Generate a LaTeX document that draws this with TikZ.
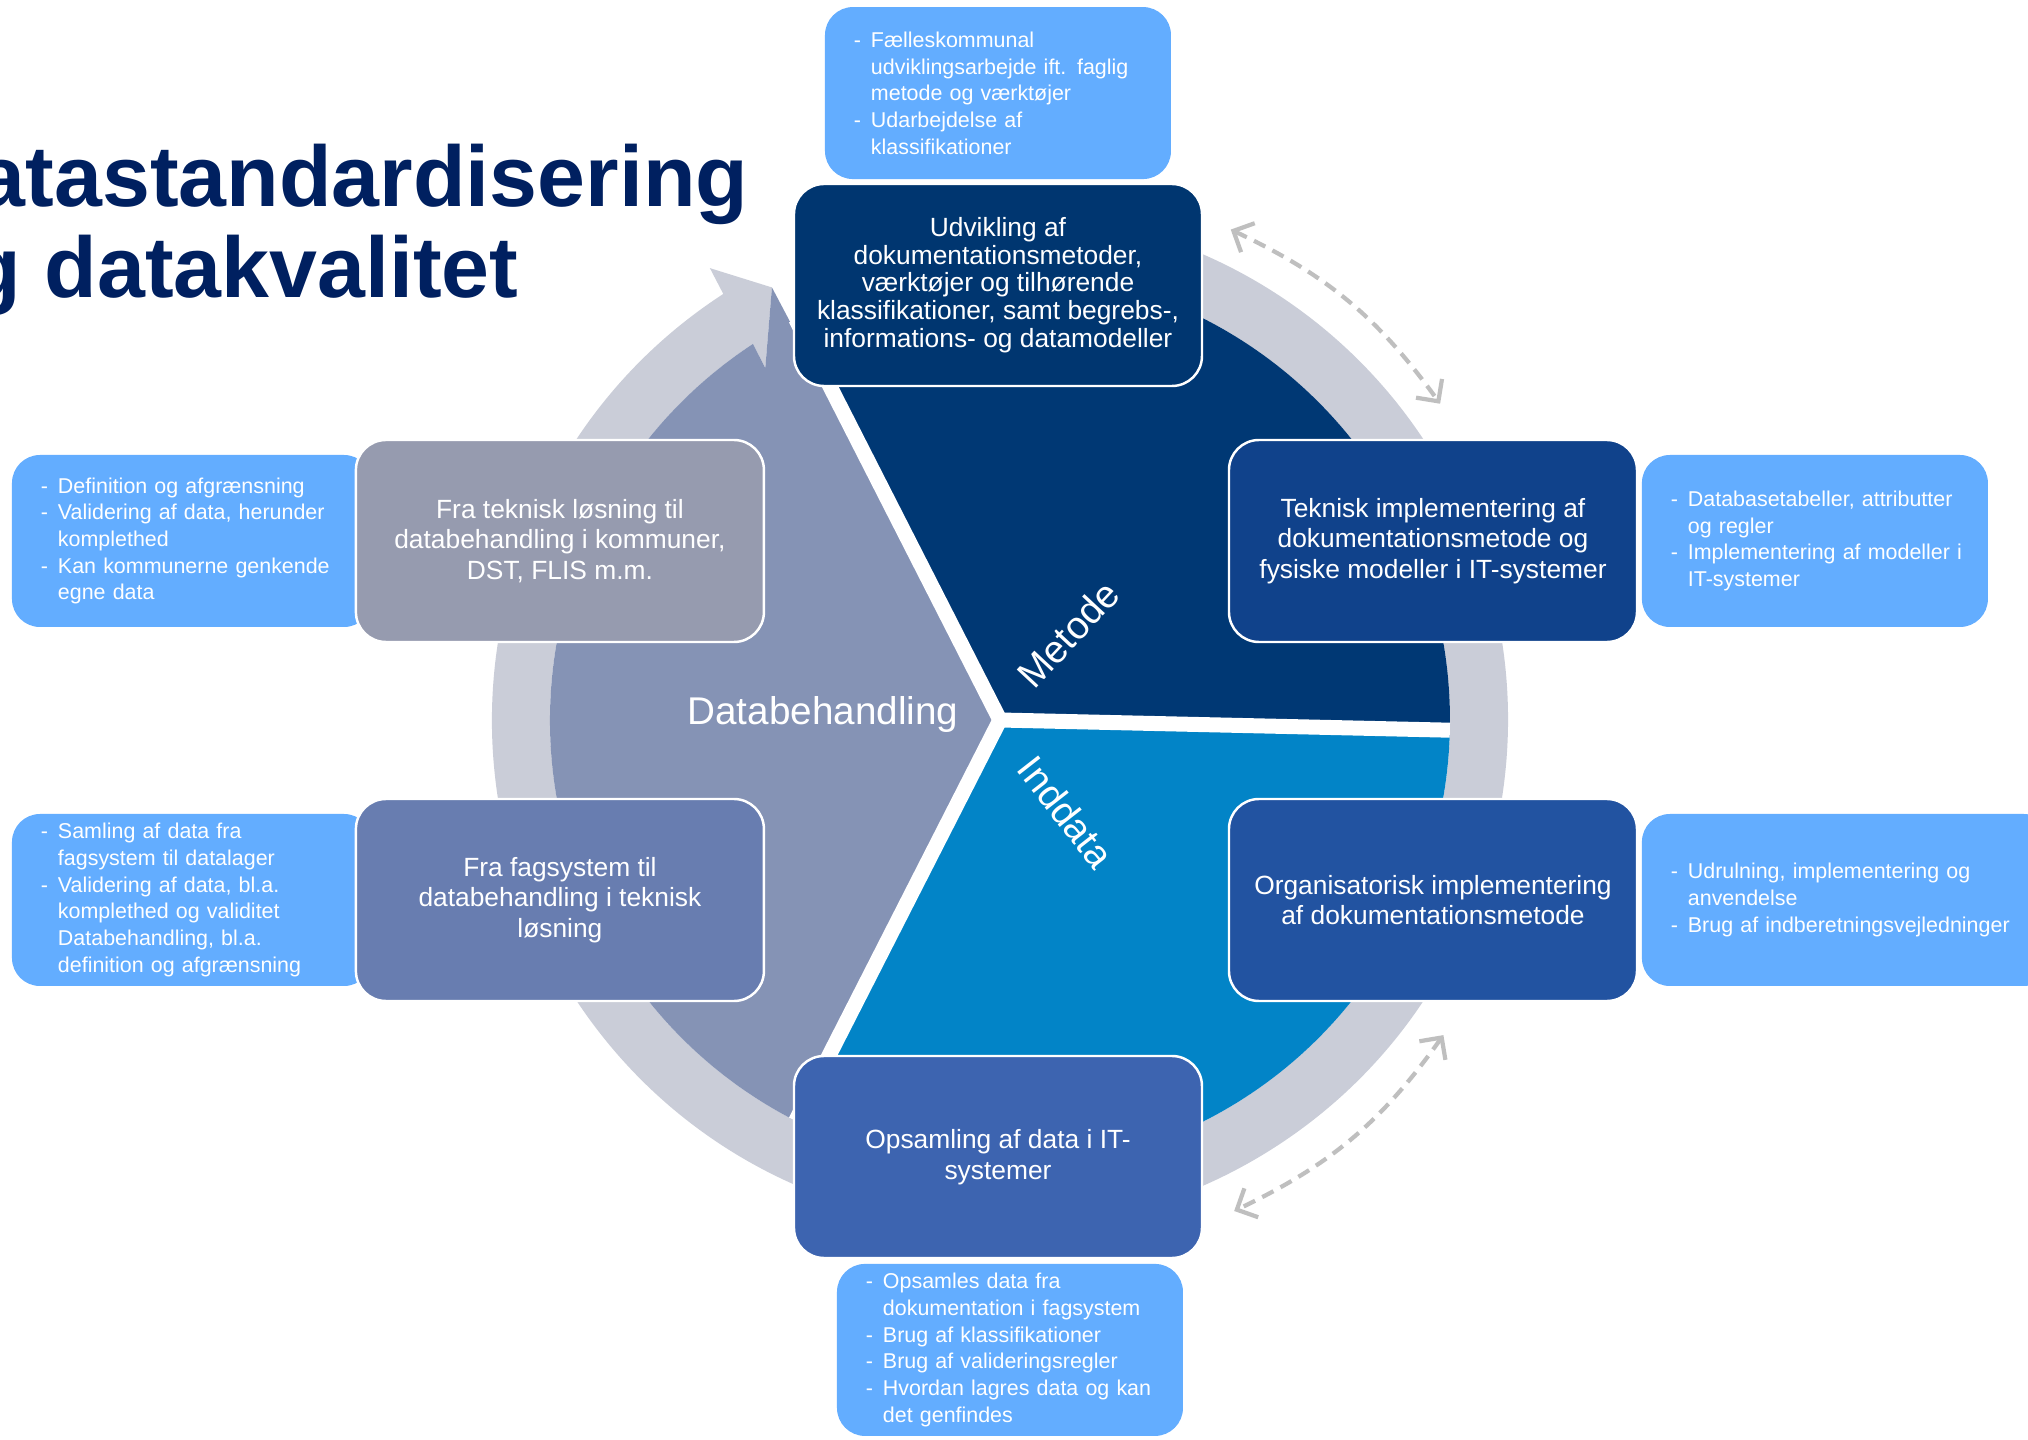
\documentclass[tikz,border=0pt]{standalone}
\usepackage{fontspec}
\setmainfont{Liberation Sans}
\usetikzlibrary{positioning, arrows.meta}

\definecolor{udvfarve}{RGB}{0,54,112}
\definecolor{tekfarve}{RGB}{16,66,139}
\definecolor{orgfarve}{RGB}{34,83,161}
\definecolor{opsfarve}{RGB}{61,100,176}
\definecolor{fagfarve}{RGB}{104,125,176}
\definecolor{losnfarve}{RGB}{150,155,175}
\definecolor{notebla}{RGB}{99,173,255}
\definecolor{metodefarve}{RGB}{0,56,116}
\definecolor{inddatafarve}{RGB}{2,132,199}
\definecolor{databehfarve}{RGB}{133,147,181}
\definecolor{ringgraa}{RGB}{202,205,216}
\definecolor{pilgraa}{RGB}{191,191,191}
\definecolor{titelbla}{RGB}{0,32,96}

\newcommand{\notepunkt}[1]{\mbox{\makebox[0.17cm][l]{-}#1}}
\newcommand{\notefort}[1]{\mbox{\hspace{0.17cm}#1}}

\tikzset{
    hovedboks/.style={draw=white, line width=0.7pt, rounded corners=0.3cm, minimum width=4.08cm, minimum height=2.02cm, inner sep=0pt, align=center, text=white, font=\fontsize{7.5}{8.7}\selectfont},
    notat/.style={fill=notebla, rounded corners=0.28cm, minimum height=1.72cm, inner xsep=0.29cm, inner ysep=0.03cm, align=left, text=white, font=\fontsize{6.1}{7.6}\selectfont},
    kiletekst/.style={inner sep=0pt, text=white, font=\fontsize{11}{13}\selectfont},
    stiplet/.style={draw=pilgraa, line width=1.2pt, dash pattern=on 3.6pt off 2.3pt, {Straight Barb[length=1.6mm,width=3.2mm]}-{Straight Barb[length=1.6mm,width=3.2mm]}},
    titel/.style={anchor=base west, inner sep=0pt, text=titelbla, font=\fontsize{24.5}{26}\selectfont\bfseries}
}

\begin{document}
\begin{tikzpicture}
        \useasboundingbox (-10,-7.2) rectangle (10.28,7.2);
        \clip (-10,-7.2) rectangle (10.28,7.2);
        \fill [white] (-10,-7.2) rectangle (10.28,7.2);

        \fill [ringgraa] (123:5.08) arc [start angle=123, end angle=455, radius=5.08] -- (455:4.5) arc [start angle=455, end angle=123.3, radius=4.5] -- (123.7:4.23) -- (117.8:4.89) -- (122.7:5.37) -- cycle;
        \fill [metodefarve] (0,0) -- (-1.3:4.5) arc [start angle=-1.3, end angle=117, radius=4.5] -- cycle;
        \fill [inddatafarve] (0,0) -- (243:4.5) arc [start angle=243, end angle=358.7, radius=4.5] -- cycle;
        \fill [databehfarve] (0,0) -- (117.8:4.89) -- (123.7:4.23) -- (123.3:4.5) arc [start angle=123.3, end angle=243, radius=4.5] -- cycle;
        \foreach \v in {117, 243, -1.3}
            \draw [white, line width=0.15cm] (0,0) -- (\v:4.5);

        \node (lblData) [kiletekst] at (-1.77,0.05) {Databehandling};
        \node (lblMetode) [kiletekst, rotate=47] at (0.68,0.86) {Metode};
        \node (lblInddata) [kiletekst, rotate=-52] at (0.66,-0.92) {Inddata};

        \coordinate (pilA1) at (64.8:5.42);
        \coordinate (pilA2) at (35.7:5.42);
        \coordinate (pilB1) at (-35.4:5.44);
        \coordinate (pilB2) at (-64.5:5.44);
        \draw [stiplet] (pilA1) to [bend left=14.5] (pilA2);
        \draw [stiplet] (pilB1) to [bend left=14.5] (pilB2);

        \node (losnNote) [notat, text width=3.02cm] at (-8.08,1.79) {\notepunkt{Definition og afgrænsning}\\ \notepunkt{Validering af data, herunder}\\ \notefort{komplethed}\\ \notepunkt{Kan kommunerne genkende}\\ \notefort{egne data}};
        \node (fagNote) [notat, text width=3.02cm] at (-8.08,-1.80) {\notepunkt{Samling af data fra}\\ \notefort{fagsystem til datalager}\\ \notepunkt{Validering af data, bl.a.}\\ \notefort{komplethed og validitet}\\ \notefort{Databehandling, bl.a.}\\ \notefort{definition og afgrænsning}};

        \node (losn) [hovedboks, fill=losnfarve, right=-0.18cm of losnNote] {Fra teknisk løsning til\\databehandling i kommuner,\\DST, FLIS m.m.};
        \node (fag) [hovedboks, fill=fagfarve, right=-0.18cm of fagNote] {Fra fagsystem til\\databehandling i teknisk\\løsning};
        \node (udv) [hovedboks, fill=udvfarve, font=\fontsize{7.5}{7.9}\selectfont] at (-0.02,4.35) {Udvikling af\\dokumentationsmetoder,\\værktøjer og tilhørende\\klassifikationer, samt begrebs-,\\informations- og datamodeller};
        \node (tek) [hovedboks, fill=tekfarve] at (4.33,1.79) {Teknisk implementering af\\dokumentationsmetode og\\fysiske modeller i IT-systemer};
        \node (org) [hovedboks, fill=orgfarve] at (4.33,-1.80) {Organisatorisk implementering\\af dokumentationsmetode};
        \node (ops) [hovedboks, fill=opsfarve] at (-0.02,-4.37) {Opsamling af data i IT-\\systemer};

        \node (udvNote) [notat, text width=2.88cm, above=0.03cm of udv] {\notepunkt{Fælleskommunal}\\ \notefort{udviklingsarbejde ift. faglig}\\ \notefort{metode og værktøjer}\\ \notepunkt{Udarbejdelse af}\\ \notefort{klassifikationer}};
        \node (tekNote) [notat, text width=2.88cm, right=0.03cm of tek] {\notepunkt{Databasetabeller, attributter}\\ \notefort{og regler}\\ \notepunkt{Implementering af modeller i}\\ \notefort{IT-systemer}};
        \node (orgNote) [notat, text width=3.52cm, right=0.03cm of org] {\notepunkt{Udrulning, implementering og}\\ \notefort{anvendelse}\\ \notepunkt{Brug af indberetningsvejledninger}};
        \node (opsNote) [notat, text width=2.88cm, below=0.04cm of ops, xshift=0.12cm] {\notepunkt{Opsamles data fra}\\ \notefort{dokumentation i fagsystem}\\ \notepunkt{Brug af klassifikationer}\\ \notepunkt{Brug af valideringsregler}\\ \notepunkt{Hvordan lagres data og kan}\\ \notefort{det genfindes}};

        \node (titel1) [titel] at (-10.85,5.13) {Datastandardisering};
        \node (titel2) [titel] at (-10.85,4.22) {og datakvalitet};
\end{tikzpicture}
\end{document}
